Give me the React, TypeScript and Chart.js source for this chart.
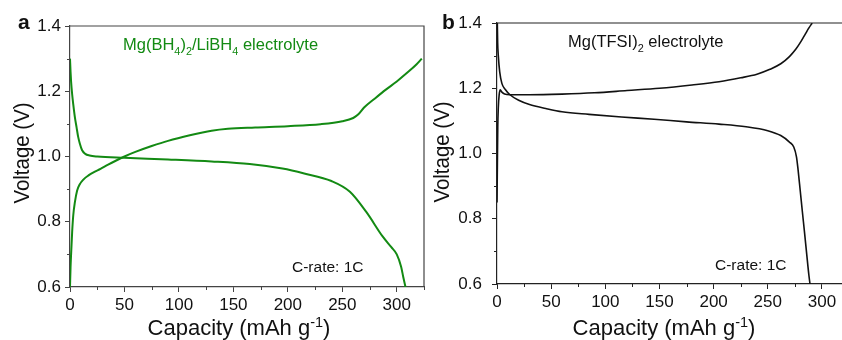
import React, { useEffect, useRef } from "react";
import { Chart, registerables } from "chart.js";

Chart.register(...registerables);

const FONT = '"Liberation Sans", Arial, Helvetica, sans-serif';

// ---------- Data ----------
// Panel a: Mg(BH4)2/LiBH4 electrolyte (green)
const aDischargeCap = [0, 0.5, 1, 2, 3, 4.5, 6, 7.5, 9, 11, 14, 18, 25, 50, 90, 130, 165, 195, 215, 240, 257, 272, 287, 295, 300, 304, 306, 308];
const aDischargeV = [1.3, 1.26, 1.23, 1.19, 1.16, 1.12, 1.09, 1.06, 1.04, 1.02, 1.008, 1.003, 1.0, 0.996, 0.991, 0.985, 0.977, 0.963, 0.948, 0.925, 0.892, 0.83, 0.755, 0.722, 0.7, 0.662, 0.63, 0.6];
const aChargeCap = [0, 0.5, 1, 2, 3, 4.5, 6.5, 9, 12.5, 17, 22, 28, 35, 42, 50, 60, 75, 90, 110, 130, 145, 170, 200, 230, 250, 260, 265, 270, 280, 290, 300, 310, 318, 323];
const aChargeV = [0.6, 0.66, 0.7, 0.77, 0.82, 0.86, 0.895, 0.915, 0.93, 0.942, 0.952, 0.962, 0.975, 0.987, 1.0, 1.014, 1.032, 1.048, 1.065, 1.079, 1.085, 1.089, 1.093, 1.099, 1.108, 1.118, 1.13, 1.15, 1.178, 1.205, 1.23, 1.258, 1.282, 1.3];

// Panel b: Mg(TFSI)2 electrolyte (black)
const bDischargeCap = [0.3, 0.6, 1.2, 2.5, 4.5, 7.5, 12, 20, 30, 45, 60, 85, 115, 145, 175, 205, 230, 250, 262, 270, 274, 276.5, 278, 280, 282, 284, 286, 288, 289];
const bDischargeV = [1.4, 1.34, 1.3, 1.25, 1.215, 1.197, 1.18, 1.163, 1.15, 1.138, 1.128, 1.12, 1.112, 1.105, 1.097, 1.09, 1.082, 1.07, 1.055, 1.035, 1.02, 0.99, 0.95, 0.885, 0.82, 0.756, 0.69, 0.626, 0.6];
const bChargeCap = [0, 0.3, 0.7, 1.2, 2, 3, 4.5, 7, 12, 30, 60, 90, 120, 150, 180, 205, 225, 240, 252, 262, 270, 276, 281, 285, 288, 291];
const bChargeV = [0.85, 0.95, 1.08, 1.14, 1.18, 1.195, 1.188, 1.182, 1.18, 1.18, 1.182, 1.186, 1.193, 1.2, 1.21, 1.22, 1.232, 1.243, 1.258, 1.275, 1.297, 1.32, 1.345, 1.368, 1.385, 1.4];

// Axis settings
const yMin = 0.6;
const yMax = 1.4;
const yStep = 0.1;
const xMin = 0;
const xMax = 325;
const xStep = 25;

const xTitleParts = [{ t: "Capacity (mAh g" }, { t: "-1", s: "sup" }, { t: ")" }];
const yTitle = "Voltage (V)";
const aNote = [{ t: "Mg(BH" }, { t: "4", s: "sub" }, { t: ")" }, { t: "2", s: "sub" }, { t: "/LiBH" }, { t: "4", s: "sub" }, { t: " electrolyte" }];
const bNote = [{ t: "Mg(TFSI)" }, { t: "2", s: "sub" }, { t: " electrolyte" }];
const rateNote = "C-rate: 1C";

type Part = { t: string; s?: string };

function drawParts(ctx: CanvasRenderingContext2D, x: number, y: number, parts: Part[], size: number, color: string, align: string) {
  ctx.save();
  ctx.fillStyle = color;
  ctx.textBaseline = "alphabetic";
  ctx.textAlign = "left";
  const small = size * 0.66;
  const widths = parts.map((p) => {
    ctx.font = `${p.s ? small : size}px ${FONT}`;
    return ctx.measureText(p.t).width;
  });
  const total = widths.reduce((a, b) => a + b, 0);
  let cx = align === "center" ? x - total / 2 : x;
  parts.forEach((p, i) => {
    ctx.font = `${p.s ? small : size}px ${FONT}`;
    const dy = p.s === "sub" ? size * 0.3 : p.s === "sup" ? -size * 0.38 : 0;
    ctx.fillText(p.t, cx, y + dy);
    cx += widths[i];
  });
  ctx.restore();
}

const isMajorY = (v: number) => Math.round(v * 10) % 2 === 0;
const isMajorX = (v: number) => Math.round(v) % 50 === 0;

interface PanelProps {
  letter: string;
  width: number;
  left: number;
  padTop: number;
  padRight: number;
  yWidth: number;
  xHeight: number;
  yTickPad: number;
  lineColor: string;
  lineWidth: number;
  axisColor: string;
  frameRight: boolean;
  series: { cap: number[]; v: number[] }[];
  note: Part[];
  noteColor: string;
  noteX: number;
  noteY: number;
  rateX: number;
  rateY: number;
  letterX: number;
  yTitleX: number;
  yTitleY: number;
  xTitleX: number;
}

function Panel(props: PanelProps) {
  const ref = useRef<HTMLCanvasElement | null>(null);
  useEffect(() => {
    const canvas = ref.current;
    if (!canvas) return;
    const p = props;
    const decor = {
      id: "decor",
      afterDraw(chart: any) {
        const ctx: CanvasRenderingContext2D = chart.ctx;
        const area = chart.chartArea;
        const xs = chart.scales.x;
        const ys = chart.scales.y;
        ctx.save();
        ctx.strokeStyle = p.axisColor;
        ctx.lineWidth = 1.2;
        ctx.beginPath();
        ctx.moveTo(area.left, area.top);
        ctx.lineTo(area.right, area.top);
        if (p.frameRight) ctx.lineTo(area.right, area.bottom);
        ctx.stroke();
        ctx.lineWidth = 1;
        ctx.beginPath();
        xs.ticks.forEach((t: any) => {
          if (!isMajorX(t.value)) {
            const px = Math.round(xs.getPixelForValue(t.value)) + 0.5;
            ctx.moveTo(px, area.bottom);
            ctx.lineTo(px, area.bottom + 3);
          }
        });
        ys.ticks.forEach((t: any) => {
          if (!isMajorY(t.value)) {
            const py = Math.round(ys.getPixelForValue(t.value)) + 0.5;
            ctx.moveTo(area.left, py);
            ctx.lineTo(area.left - 3, py);
          }
        });
        ctx.stroke();
        ctx.restore();

        drawParts(ctx, p.noteX, p.noteY, p.note, 16.5, p.noteColor, "left");
        drawParts(ctx, p.rateX, p.rateY, [{ t: rateNote }], 15.5, "#111", "left");
        drawParts(ctx, p.xTitleX, 335, xTitleParts, 22, "#111", "center");
        ctx.save();
        ctx.fillStyle = "#111";
        ctx.font = `bold 21px ${FONT}`;
        ctx.textAlign = "left";
        ctx.textBaseline = "alphabetic";
        ctx.fillText(p.letter, p.letterX, 29);
        ctx.translate(p.yTitleX, p.yTitleY);
        ctx.rotate(-Math.PI / 2);
        ctx.scale(0.93, 1);
        ctx.font = `22px ${FONT}`;
        ctx.textAlign = "center";
        ctx.fillText(yTitle, 0, 0);
        ctx.restore();
      },
    };

    const chart = new Chart(canvas, {
      type: "scatter",
      data: {
        datasets: p.series.map((s) => ({
          data: s.cap.map((c, i) => ({ x: c, y: s.v[i] })),
          showLine: true,
          borderColor: p.lineColor,
          backgroundColor: p.lineColor,
          borderWidth: p.lineWidth,
          pointRadius: 0,
          cubicInterpolationMode: "monotone" as const,
        })),
      },
      options: {
        responsive: false,
        animation: false,
        devicePixelRatio: 1,
        layout: { padding: { top: p.padTop, right: p.padRight, left: 0, bottom: 0 } },
        plugins: { legend: { display: false }, tooltip: { enabled: false }, title: { display: false } },
        scales: {
          x: {
            type: "linear",
            min: xMin,
            max: xMax,
            afterFit: (s: any) => {
              s.height = p.xHeight;
            },
            ticks: {
              stepSize: xStep,
              autoSkip: false,
              maxRotation: 0,
              padding: 3,
              color: "#111",
              font: { family: FONT, size: 17 },
              callback: (v: any) => (isMajorX(Number(v)) ? String(Math.round(Number(v))) : ""),
            },
            grid: {
              drawOnChartArea: false,
              drawTicks: true,
              tickLength: 5,
              tickWidth: 1,
              tickColor: (c: any) => (c.tick && isMajorX(c.tick.value) ? p.axisColor : "rgba(0,0,0,0)"),
            },
            border: { display: true, color: p.axisColor, width: 1.2 },
          },
          y: {
            type: "linear",
            min: yMin,
            max: yMax,
            afterFit: (s: any) => {
              s.width = p.yWidth;
            },
            ticks: {
              stepSize: yStep,
              autoSkip: false,
              padding: p.yTickPad,
              color: "#111",
              font: { family: FONT, size: 17 },
              callback: (v: any) => (isMajorY(Number(v)) ? Number(v).toFixed(1) : ""),
            },
            grid: {
              drawOnChartArea: false,
              drawTicks: true,
              tickLength: 5,
              tickWidth: 1,
              tickColor: (c: any) => (c.tick && isMajorY(c.tick.value) ? p.axisColor : "rgba(0,0,0,0)"),
            },
            border: { display: true, color: p.axisColor, width: 1.2 },
          },
        },
      },
      plugins: [decor],
    } as any);
    return () => chart.destroy();
  }, []);
  return (
    <canvas
      ref={ref}
      width={props.width}
      height={340}
      style={{ position: "absolute", left: props.left, top: 0, width: props.width, height: 340 }}
    />
  );
}

export default function App() {
  return (
    <div style={{ position: "absolute", left: 0, top: 0, width: 842, height: 340, overflow: "hidden", background: "#fff" }}>
      <Panel
        letter="a"
        width={440}
        left={0}
        padTop={26}
        padRight={16}
        yWidth={70}
        xHeight={53}
        yTickPad={4}
        lineColor="#138a13"
        lineWidth={2}
        axisColor="#444"
        frameRight={true}
        series={[
          { cap: aDischargeCap, v: aDischargeV },
          { cap: aChargeCap, v: aChargeV },
        ]}
        note={aNote}
        noteColor="#138a13"
        noteX={123}
        noteY={50}
        rateX={292}
        rateY={272}
        letterX={18}
        yTitleX={29}
        yTitleY={153}
        xTitleX={239}
      />
      <Panel
        letter="b"
        width={430}
        left={428}
        padTop={23}
        padRight={9}
        yWidth={69}
        xHeight={56}
        yTickPad={10}
        lineColor="#111"
        lineWidth={1.6}
        axisColor="#222"
        frameRight={true}
        series={[
          { cap: bDischargeCap, v: bDischargeV },
          { cap: bChargeCap, v: bChargeV },
        ]}
        note={bNote}
        noteColor="#111"
        noteX={140}
        noteY={47}
        rateX={287}
        rateY={270}
        letterX={14}
        yTitleX={21}
        yTitleY={152}
        xTitleX={236}
      />
    </div>
  );
}
